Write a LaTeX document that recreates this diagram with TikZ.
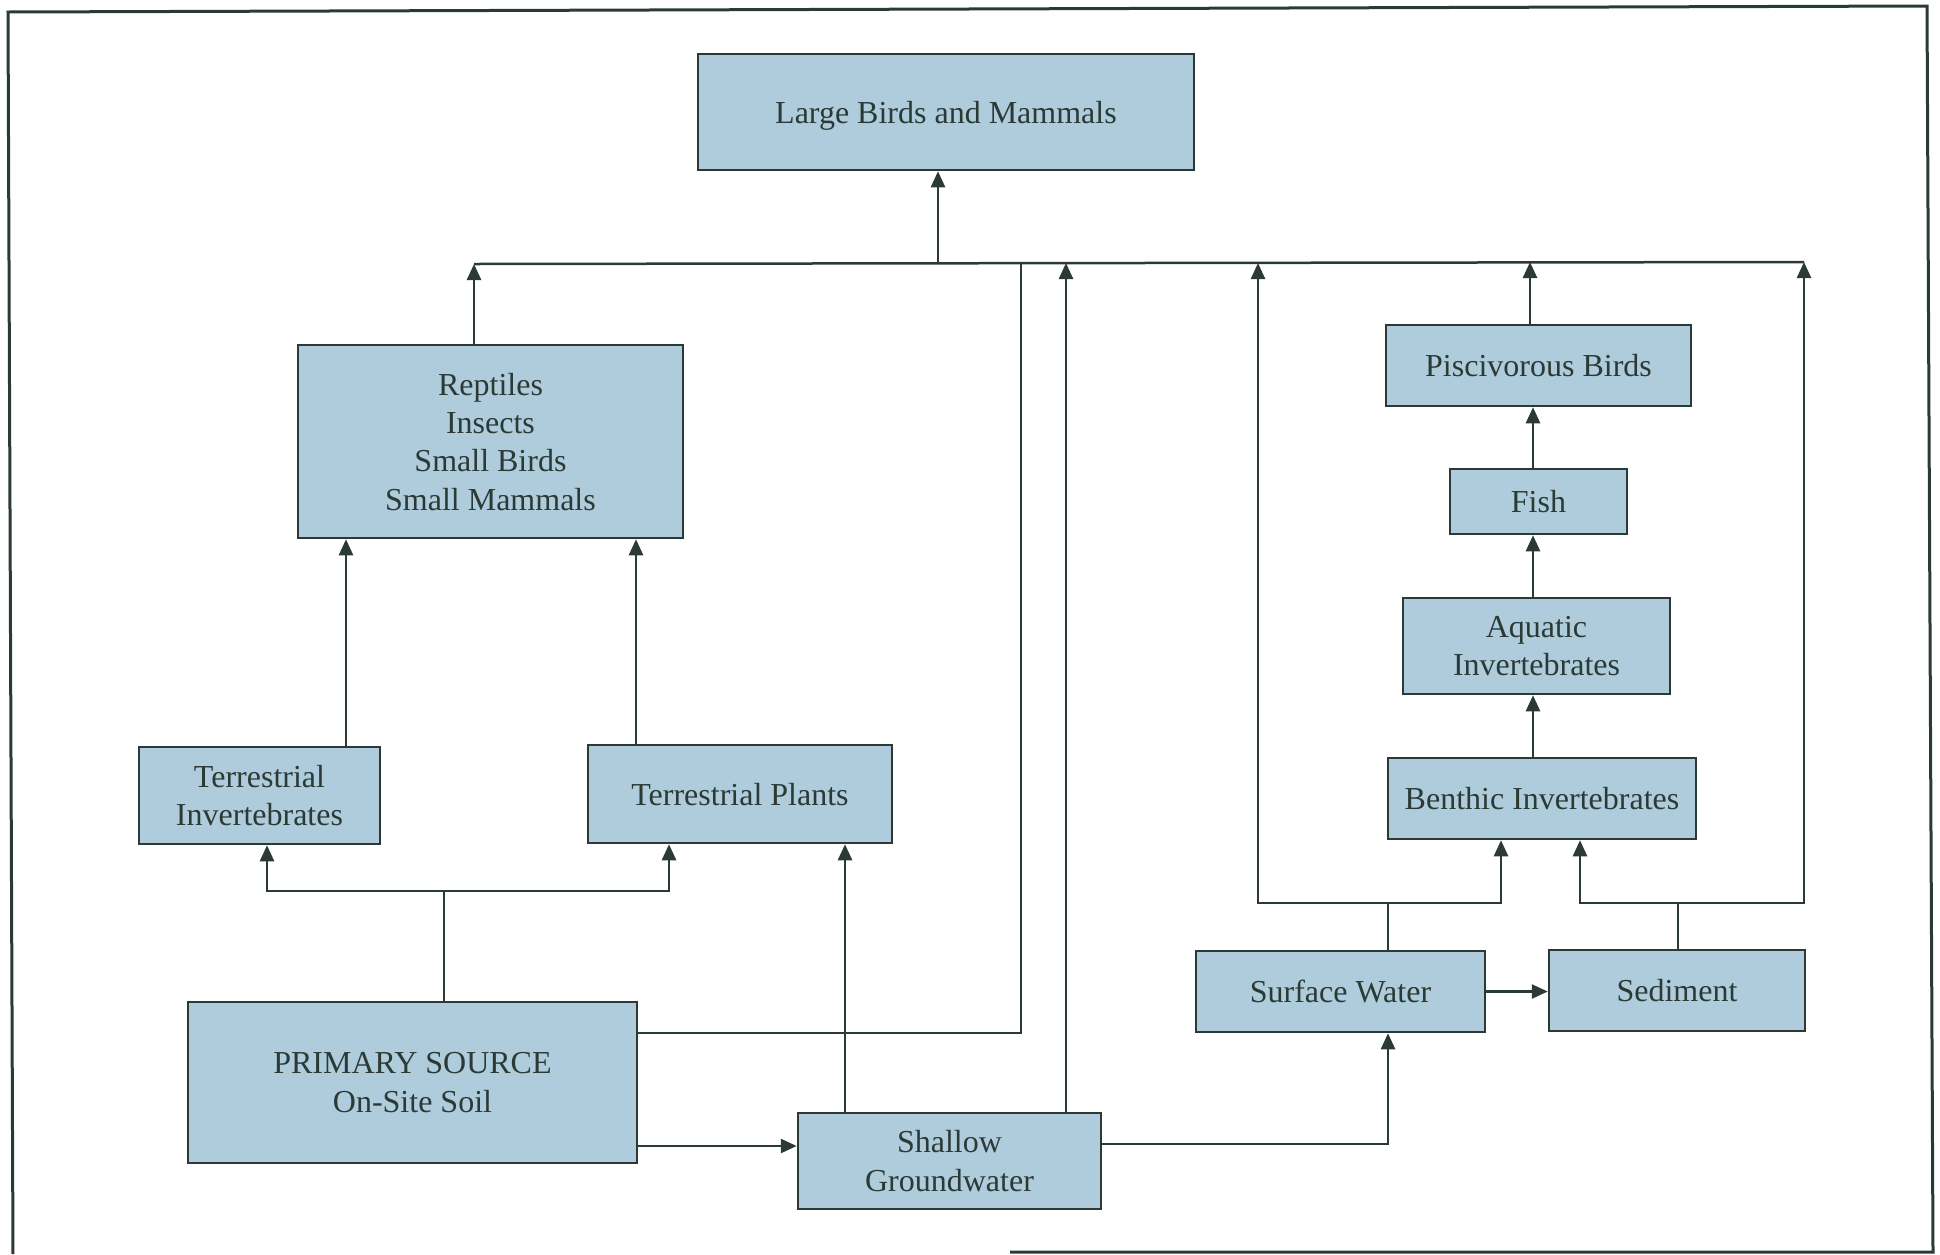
\documentclass[tikz,border=0pt]{standalone}
\usepackage{fontspec}
\setmainfont{Liberation Serif}
\usetikzlibrary{arrows.meta}
\definecolor{boxfill}{RGB}{174,204,220}
\definecolor{ink}{RGB}{44,58,54}
\tikzset{
  box/.style={draw=ink, fill=boxfill, line width=2.5pt, text=ink, align=center,
    inner sep=0pt, text depth=0pt, font=\fontsize{32}{38.4}\selectfont},
  conn/.style={draw=ink, line width=2.5pt},
  arr/.style={conn, -{Triangle[length=16pt,width=14pt]}},
}
\begin{document}
\begin{tikzpicture}[x=1pt,y=1pt]
\useasboundingbox (0,0) rectangle (1940,-1254);
% frame
\draw[ink, line width=3pt] (1010,-1252) -- (1933,-1252) -- (1927,-6) -- (8,-12) -- (13,-1254);

% boxes
\node[box, minimum width=496pt, minimum height=116pt] (LB) at (946,-112) {Large Birds and Mammals};
\node[box, minimum width=385pt, minimum height=193pt] (REP) at (490.5,-441.5) {Reptiles\\Insects\\Small Birds\\Small Mammals};
\node[box, minimum width=241pt, minimum height=97pt] (TI) at (259.5,-795.5) {Terrestrial\\Invertebrates};
\node[box, minimum width=304pt, minimum height=98pt] (TP) at (740,-794) {Terrestrial Plants};
\node[box, minimum width=449pt, minimum height=161pt] (PS) at (412.5,-1082.5) {PRIMARY SOURCE\\On-Site Soil};
\node[box, minimum width=303pt, minimum height=96pt] (SG) at (949.5,-1161) {Shallow\\Groundwater};
\node[box, minimum width=289pt, minimum height=81pt] (SW) at (1340.5,-991.5) {Surface Water};
\node[box, minimum width=256pt, minimum height=81pt] (SED) at (1677,-990.5) {Sediment};
\node[box, minimum width=308pt, minimum height=81pt] (BEN) at (1542,-798.5) {Benthic Invertebrates};
\node[box, minimum width=267pt, minimum height=96pt] (AQ) at (1536.5,-646) {Aquatic\\Invertebrates};
\node[box, minimum width=177pt, minimum height=65pt] (FISH) at (1538.5,-501.5) {Fish};
\node[box, minimum width=305pt, minimum height=81pt] (PB) at (1538.5,-365.5) {Piscivorous Birds};

% bus coordinates
\coordinate (b1) at (474,-264);
\coordinate (b2) at (938,-264);
\coordinate (b3) at (1021,-264);
\coordinate (b4) at (1066,-263);
\coordinate (b5) at (1258,-263);
\coordinate (b6) at (1530,-262);
\coordinate (bR) at (1804,-262);
% other helper coordinates
\coordinate (jp) at (444,-891);
\coordinate (xti) at (267,0);
\coordinate (xtp) at (669,0);
\coordinate (xr1) at (346,0);
\coordinate (xr2) at (636,0);
\coordinate (xsg) at (845,0);
\coordinate (jw) at (1388,-903);
\coordinate (js) at (1678,-903);
\coordinate (xb1) at (1501,0);
\coordinate (xb2) at (1580,0);
\coordinate (xa) at (1533,0);
\coordinate (ps1) at (637,-1033);
\coordinate (ps2) at (637,-1146);
\coordinate (sg1) at (1101,-1144);

% bus line
\draw[conn] (b1) -- (bR);
\draw[arr] (REP.north -| b1) -- (b1);
\draw[arr] (b2) -- (LB.south -| b2);
\draw[conn] (ps1) -| (b3);
\draw[arr] (SG.north -| b4) -- (b4);
\draw[arr] (PB.north -| b6) -- (b6);

% primary source branches
\draw[conn] (PS.north -| jp) -- (jp);
\draw[arr] (jp) -| (TI.south -| xti);
\draw[arr] (jp) -| (TP.south -| xtp);
\draw[arr] (TI.north -| xr1) -- (REP.south -| xr1);
\draw[arr] (TP.north -| xr2) -- (REP.south -| xr2);
\draw[arr] (ps2) -- (ps2 -| SG.west);
\draw[arr] (SG.north -| xsg) -- (TP.south -| xsg);

% water side
\draw[arr] (sg1) -| (SW.south -| jw);
\draw[arr] (SW.east) -- (SW.east -| SED.west);
\draw[conn] (SW.north -| jw) -- (jw);
\draw[arr] (jw) -| (b5);
\draw[arr] (jw) -| (BEN.south -| xb1);
\draw[conn] (SED.north -| js) -- (js);
\draw[arr] (js) -| (BEN.south -| xb2);
\draw[arr] (js) -| (bR);
\draw[arr] (BEN.north -| xa) -- (AQ.south -| xa);
\draw[arr] (AQ.north -| xa) -- (FISH.south -| xa);
\draw[arr] (FISH.north -| xa) -- (PB.south -| xa);
\end{tikzpicture}
\end{document}
